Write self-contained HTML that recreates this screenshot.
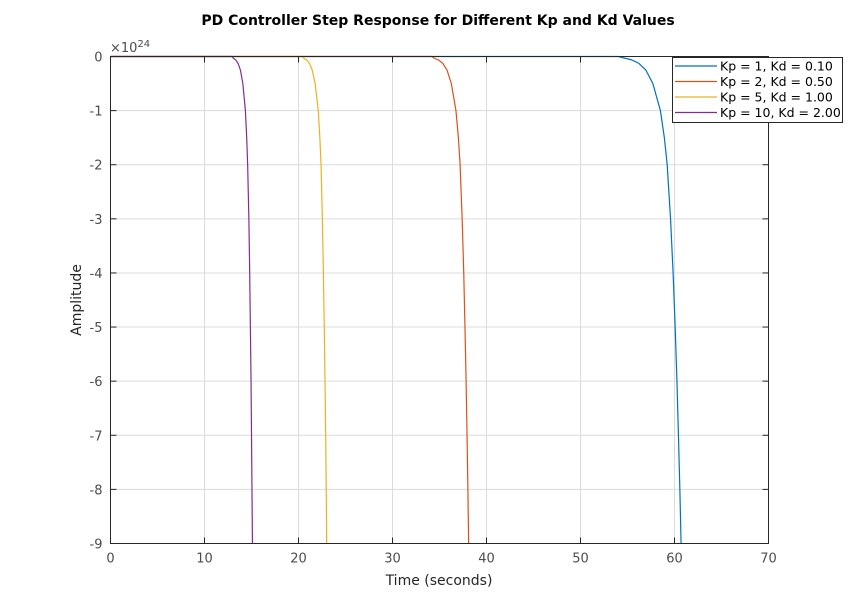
<!DOCTYPE html>
<html><head><meta charset="utf-8"><style>
body{margin:0;background:#fff;}
svg{display:block;font-family:"DejaVu Sans","Liberation Sans",sans-serif;}
</style></head><body>
<svg id="chart" width="849" height="610" viewBox="0 0 849 610">
<rect x="0" y="0" width="849" height="610" fill="#fff"/>
<g id="grid"></g>
<g id="series"></g>
<rect x="110.5" y="56.5" width="658" height="487" fill="none" stroke="#262626" stroke-width="1"/>
<g id="ticks"></g>
<text x="438" y="25" text-anchor="middle" font-size="14" font-weight="bold" fill="#000">PD Controller Step Response for Different Kp and Kd Values</text>
<text x="439" y="585" text-anchor="middle" font-size="14" fill="#262626">Time (seconds)</text>
<text transform="translate(81,300) rotate(-90)" text-anchor="middle" font-size="14" fill="#262626">Amplitude</text>
<text x="110" y="52" font-size="13" fill="#4d4d4d">×10<tspan dy="-5" font-size="10">24</tspan></text>
<g id="legend"></g>
</svg>
<script>
const xTicks=[0,10,20,30,40,50,60,70];
const yTicks=[0,-1,-2,-3,-4,-5,-6,-7,-8,-9];
const seriesNames=["Kp = 1, Kd = 0.10","Kp = 2, Kd = 0.50","Kp = 5, Kd = 1.00","Kp = 10, Kd = 2.00"];
const seriesColors=["#0072bd","#d95319","#edb120","#7e2f8e"];
const amps=[0,0,-0.03,-0.0625,-0.125,-0.25,-0.5,-1,-1.5,-2,-3,-4,-5,-6,-7,-8,-9,-9.6];
const timesKp1=[0,54.0,54.7,55.45,56.2,56.95,57.7,58.5,58.92,59.22,59.58,59.85,60.07,60.26,60.42,60.57,60.7,60.78];
const timesKp2=[0,34.2,34.42,34.88,35.34,35.8,36.26,36.75,37.01,37.19,37.41,37.58,37.71,37.83,37.93,38.02,38.1,38.15];
const timesKp5=[0,20.4,20.54,20.85,21.16,21.46,21.77,22.1,22.27,22.4,22.54,22.65,22.74,22.82,22.89,22.95,23.0,23.03];
const timesKp10=[0,12.95,13.06,13.31,13.57,13.82,14.08,14.35,14.49,14.59,14.72,14.81,14.88,14.95,15.0,15.05,15.1,15.13];
const allTimes=[timesKp1,timesKp2,timesKp5,timesKp10];
const X0=110.5,X1=768.5,Y0=56.5,Y1=543.5;
const sx=v=>X0+(v-0)/(70-0)*(X1-X0);
const sy=v=>Y0+(0-v)/(0-(-9))*(Y1-Y0);
const NS="http://www.w3.org/2000/svg";
function mk(tag,attrs,parent){const e=document.createElementNS(NS,tag);for(const k in attrs)e.setAttribute(k,attrs[k]);parent.appendChild(e);return e;}
const grid=document.getElementById('grid'),ticks=document.getElementById('ticks');
xTicks.forEach(t=>{
  const x=sx(t);
  if(t>0&&t<70){const g=mk('line',{x1:x,x2:x,y1:Y0,y2:Y1,stroke:'#dcdcdc','stroke-width':1},grid);
  
  }
  const tk=mk('line',{x1:x,x2:x,y1:Y1,y2:Y1-6,stroke:'#262626'},ticks);
  
  
  const tk2=mk('line',{x1:x,x2:x,y1:Y0,y2:Y0+6,stroke:'#262626'},ticks);
  
  
  const l=mk('text',{x:x,y:Y1+19,'text-anchor':'middle','font-size':13,fill:'#4d4d4d'},ticks);
  l.textContent=t;
  
  
});
yTicks.forEach(t=>{
  const y=sy(t);
  if(t<0&&t>-9){const g=mk('line',{x1:X0,x2:X1,y1:y,y2:y,stroke:'#dcdcdc','stroke-width':1},grid);
  
  }
  const tk=mk('line',{x1:X0,x2:X0+6,y1:y,y2:y,stroke:'#262626'},ticks);
  
  
  const tk2=mk('line',{x1:X1,x2:X1-6,y1:y,y2:y,stroke:'#262626'},ticks);
  
  
  const l=mk('text',{x:X0-8,y:y+5,'text-anchor':'end','font-size':13,fill:'#4d4d4d'},ticks);
  l.textContent=t;
  
  
});
const sg=document.getElementById('series');
const cp=mk('clipPath',{id:'clip'},sg);
mk('rect',{x:X0,y:Y0-2,width:X1-X0,height:Y1-Y0+2},cp);
allTimes.forEach((ts,i)=>{
  const pts=ts.map((t,j)=>sx(t).toFixed(2)+','+sy(amps[j]).toFixed(2)).join(' ');
  const p=mk('polyline',{points:pts,fill:'none',stroke:seriesColors[i],'stroke-width':1.2,'stroke-linejoin':'round','clip-path':'url(#clip)'},sg);
  
  
});
const lg=document.getElementById('legend');
const lb=mk('rect',{x:672.5,y:57.5,width:170,height:65,fill:'#fff',stroke:'#262626'},lg);


seriesNames.forEach((n,i)=>{
  const y=66+i*15.5;
  const ln=mk('line',{x1:675,x2:717,y1:y,y2:y,stroke:seriesColors[i],'stroke-width':1.2},lg);
  
  
  const t=mk('text',{x:720,y:y+4.5,'font-size':12.5,fill:'#000'},lg);
  t.textContent=n;
  
  
});
</script>
</body></html>
